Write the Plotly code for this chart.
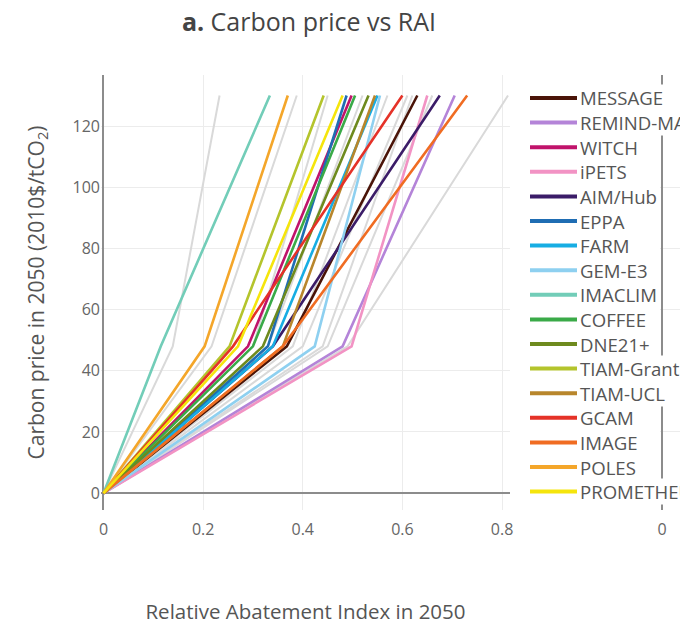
import plotly.graph_objects as go

# Carbon price levels (2010$/tCO2) at which RAI is reported
carbon_price = [0, 48, 130]

# Models shown in the legend
models = ["MESSAGE", "REMIND-MAgPIE", "WITCH", "iPETS", "AIM/Hub", "EPPA", "FARM",
          "GEM-E3", "IMACLIM", "COFFEE", "DNE21+", "TIAM-Grantham", "TIAM-UCL",
          "GCAM", "IMAGE", "POLES", "PROMETHEUS"]
rai_mid = [0.368, 0.480, 0.290, 0.498, 0.340, 0.330, 0.340,
           0.424, 0.115, 0.300, 0.320, 0.253, 0.360,
           0.260, 0.360, 0.203, 0.270]
rai_top = [0.630, 0.705, 0.498, 0.650, 0.675, 0.488, 0.550,
           0.555, 0.334, 0.505, 0.532, 0.442, 0.545,
           0.600, 0.730, 0.370, 0.480]
colors = ["#4a1408", "#b484d8", "#c0136b", "#f293c4", "#3b1c68", "#1f6db3", "#17ade3",
          "#8ed0f0", "#72cdb8", "#3aaa48", "#6e8a1e", "#b4c42c", "#b8862c",
          "#e53228", "#f06c22", "#f4a62a", "#f5e50c"]

# Other (unlabelled) model variants shown in grey
grey_mid = [0.139, 0.217, 0.300, 0.330, 0.380, 0.400, 0.440, 0.450, 0.490]
grey_top = [0.233, 0.388, 0.450, 0.520, 0.570, 0.610, 0.620, 0.660, 0.812]

fig = go.Figure()

for m, t in zip(grey_mid, grey_top):
    fig.add_trace(go.Scatter(x=[0, m, t], y=carbon_price, mode="lines",
                             line=dict(color="#d9d9d9", width=2),
                             showlegend=False, hoverinfo="skip"))

for name, m, t, c in zip(models, rai_mid, rai_top, colors):
    fig.add_trace(go.Scatter(x=[0, m, t], y=carbon_price, mode="lines", name=name,
                             line=dict(color=c, width=2.6), showlegend=False))

# neighbouring panel (only its left edge is visible)
fig.add_trace(go.Scatter(x=[None], y=[None], xaxis="x2", yaxis="y2",
                         showlegend=False, hoverinfo="skip"))

W, H = 680, 625
ml, mr, mt, mb = 101, 0, 75, 115
pw = W - ml - mr
ph = H - mt - mb


def px_x(p):
    return (p - ml) / pw


def px_y(p):
    return (H - mb - p) / ph


axis_common = dict(showgrid=True, gridcolor="#ececec", gridwidth=1,
                   zeroline=True, zerolinecolor="#8c8c8c", zerolinewidth=2,
                   showline=False, ticks="",
                   tickfont=dict(family="Open Sans", size=16, color="#666"))

# legend drawn as line samples + labels, one row per model
shapes = []
annotations = []
row0, step = 98, 24.6
for i, (name, c) in enumerate(zip(models, colors)):
    yy = px_y(row0 + i * step)
    shapes.append(dict(type="line", xref="paper", yref="paper",
                       x0=px_x(530), x1=px_x(577), y0=yy, y1=yy,
                       line=dict(color=c, width=4)))
    annotations.append(dict(text=name, xref="paper", yref="paper",
                            x=px_x(579), y=yy, xanchor="left", yanchor="middle",
                            showarrow=False, bgcolor="white", borderpad=0,
                            font=dict(family="Open Sans", size=18.6, color="#555")))

fig.update_layout(
    width=W, height=H,
    margin=dict(l=ml, r=mr, t=mt, b=mb, autoexpand=False),
    paper_bgcolor="white", plot_bgcolor="white",
    font=dict(family="Open Sans", color="#555"),
    title=dict(text="<b>a.</b> Carbon price vs RAI", x=309 / W, xanchor="center",
               xref="container", y=1 - 22 / H, yanchor="middle", yref="container",
               font=dict(size=25, color="#444")),
    xaxis=dict(domain=[0, (510 - ml) / pw], range=[-0.005, 0.816],
               tickvals=[0, 0.2, 0.4, 0.6, 0.8], ticktext=["0", "0.2", "0.4", "0.6", "0.8"],
               ticklabelstandoff=8,
               title=dict(text="Relative Abatement Index in 2050", standoff=65,
                          font=dict(size=20.5, color="#555")),
               anchor="y", **axis_common),
    yaxis=dict(range=[-5.5, 136.7], dtick=20, anchor="x",
               title=dict(text="Carbon price in 2050 (2010$/tCO<sub>2</sub>)", standoff=22,
                          font=dict(size=21, color="#555")),
               **axis_common),
    xaxis2=dict(domain=[(659.5 - ml) / pw, 1], range=[-0.005, 0.036],
                tickvals=[0], ticktext=["0"], ticklabelstandoff=8,
                anchor="y2", **axis_common),
    yaxis2=dict(range=[-5.5, 136.7], dtick=20, anchor="x2", showticklabels=False,
                **{k: v for k, v in axis_common.items() if k != "tickfont"}),
    shapes=shapes,
    annotations=annotations,
    showlegend=False,
)

fig.write_html("out.html")
